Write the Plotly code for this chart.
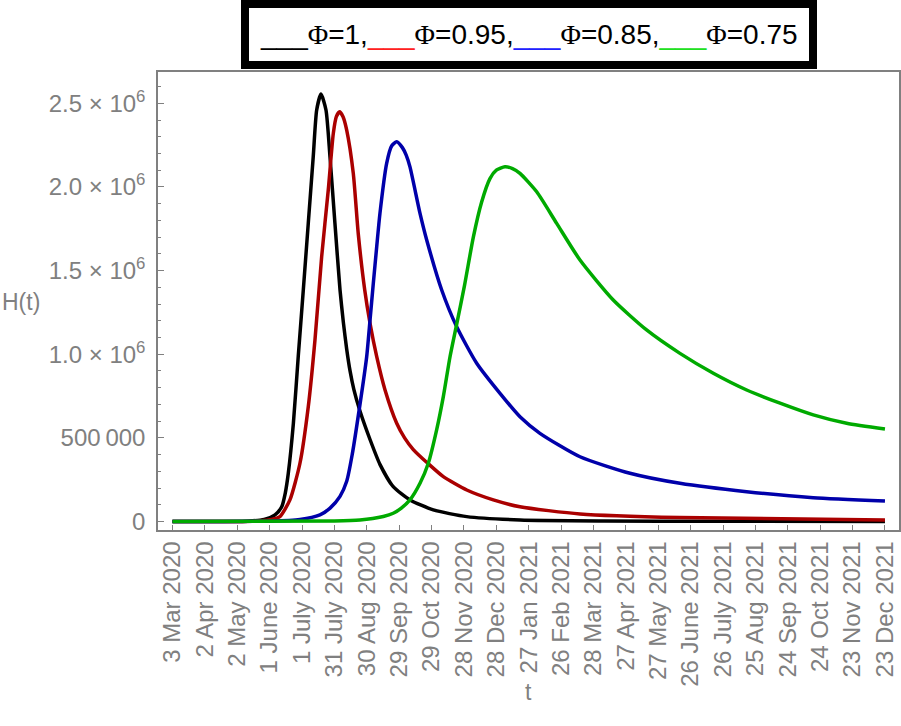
import plotly.graph_objects as go

# x = days since 3 Mar 2020, y = H(t) in millions
black_days = [0, 40, 70, 85, 95, 101.2, 104.5, 107.3, 112, 116.5, 121.2, 125.8, 130.4, 133.6, 137.6, 142.2, 145.9, 150.5, 155.2, 158.3, 161.4, 164.5, 168, 173.7, 183, 192.3, 204.5, 220, 241.6, 272.6, 321.9, 400, 500, 660]
black_vals = [0, 0, 0.002, 0.012, 0.04, 0.088, 0.17, 0.288, 0.587, 0.985, 1.384, 1.782, 2.181, 2.46, 2.555, 2.46, 2.181, 1.782, 1.384, 1.19, 1.03, 0.90, 0.79, 0.66, 0.49, 0.34, 0.208, 0.129, 0.069, 0.029, 0.009, 0.003, 0.001, 0.0]

red_days = [0, 60, 80, 92, 99.5, 108.8, 118.1, 125.8, 132, 138.2, 144.3, 149, 151.8, 154.8, 158, 161.4, 167.5, 172.1, 178.1, 183, 189.2, 196.9, 207.7, 215, 223.1, 237, 250.9, 272.6, 297.2, 321.9, 377.5, 470, 660]
red_vals = [0, 0.0, 0.004, 0.012, 0.029, 0.129, 0.348, 0.686, 1.085, 1.583, 1.98, 2.32, 2.42, 2.449, 2.42, 2.34, 2.081, 1.72, 1.384, 1.185, 0.985, 0.786, 0.587, 0.5, 0.43, 0.345, 0.268, 0.188, 0.129, 0.088, 0.045, 0.023, 0.009]

blue_days = [0, 90, 118.1, 136.6, 146, 155.2, 161.4, 166.5, 173.7, 179.9, 183, 186, 189.2, 192.2, 198.4, 203, 207.7, 213, 216.5, 220, 229.3, 235.5, 249.4, 263.3, 281.8, 303.4, 321.9, 340.4, 377.5, 423.8, 470.1, 531.9, 593.6, 660]
blue_vals = [0, 0.002, 0.012, 0.04, 0.08, 0.15, 0.24, 0.40, 0.70, 0.985, 1.204, 1.42, 1.643, 1.842, 2.141, 2.245, 2.270, 2.235, 2.19, 2.12, 1.842, 1.683, 1.384, 1.164, 0.946, 0.766, 0.626, 0.527, 0.387, 0.288, 0.228, 0.178, 0.142, 0.123]

green_days = [0, 150, 173.7, 195.3, 204.5, 212, 220, 229.3, 237, 244.7, 250.9, 257.1, 263.3, 270.5, 278.7, 286.4, 294.1, 300, 308, 315, 321.9, 337.4, 355.9, 377.5, 408.3, 439.2, 470.1, 501, 531.9, 562.8, 593.6, 624.5, 660]
green_vals = [0, 0.003, 0.009, 0.03, 0.049, 0.08, 0.129, 0.228, 0.348, 0.547, 0.746, 0.985, 1.18, 1.41, 1.70, 1.91, 2.05, 2.10, 2.121, 2.11, 2.081, 1.971, 1.782, 1.563, 1.324, 1.145, 1.005, 0.886, 0.786, 0.707, 0.637, 0.587, 0.553]

x_tick_days = list(range(0, 661, 30))
x_tick_labels = ["3 Mar 2020", "2 Apr 2020", "2 May 2020", "1 June 2020", "1 July 2020",
                 "31 July 2020", "30 Aug 2020", "29 Sep 2020", "29 Oct 2020", "28 Nov 2020",
                 "28 Dec 2020", "27 Jan 2021", "26 Feb 2021", "28 Mar 2021", "27 Apr 2021",
                 "27 May 2021", "26 June 2021", "26 July 2021", "25 Aug 2021", "24 Sep 2021",
                 "24 Oct 2021", "23 Nov 2021", "23 Dec 2021"]
y_tick_vals = [0, 500000, 1000000, 1500000, 2000000, 2500000]
y_tick_labels = ["0", "500\u2009000", "1.0 \u00d7 10<sup>6</sup>", "1.5 \u00d7 10<sup>6</sup>",
                 "2.0 \u00d7 10<sup>6</sup>", "2.5 \u00d7 10<sup>6</sup>"]

series = [
    (black_days, black_vals, "#000000"),
    (red_days, red_vals, "#aa0000"),
    (blue_days, blue_vals, "#0000aa"),
    (green_days, green_vals, "#00aa00"),
]

GRAY = "#808080"
FONT = "Liberation Sans, Arial, sans-serif"

fig = go.Figure()
for d, v, c in series:
    fig.add_trace(go.Scatter(x=d, y=[val * 1e6 for val in v], mode="lines",
                             line=dict(color=c, width=3.5, shape="spline", smoothing=0.6),
                             showlegend=False, hoverinfo="skip"))

fig.update_layout(
    width=901, height=726,
    margin=dict(l=158, r=2, t=72, b=196),
    paper_bgcolor="white", plot_bgcolor="white",
    font=dict(family=FONT, color=GRAY, size=24),
    xaxis=dict(range=[-13.4, 673], tickvals=x_tick_days, ticktext=x_tick_labels,
               tickangle=-90, ticks="inside", ticklen=5, tickcolor=GRAY,
               showline=True, linecolor=GRAY, linewidth=1.5, mirror=True,
               showgrid=False, zeroline=False, automargin=False,
               tickfont=dict(size=24, color=GRAY, family=FONT)),
    yaxis=dict(range=[-51000, 2687000], tickvals=y_tick_vals, ticktext=y_tick_labels,
               ticks="inside", ticklen=6, tickcolor=GRAY, ticklabelstandoff=6,
               minor=dict(dtick=100000, ticks="inside", ticklen=3, tickcolor=GRAY, showgrid=False),
               showline=True, linecolor=GRAY, linewidth=1.5, mirror=True,
               showgrid=False, zeroline=False, automargin=False,
               tickfont=dict(size=24, color=GRAY, family=FONT)),
)

PHI = "<span style='font-family:Liberation Serif, Times New Roman, serif'>\u03a6</span>"
legend_text = ("<span style='color:#000000'>___</span>" + PHI + "=1,"
               "<span style='color:#ff2020'>___</span>" + PHI + "=0.95,"
               "<span style='color:#2020ff'>___</span>" + PHI + "=0.85,"
               "<span style='color:#20e020'>___</span>" + PHI + "=0.75")
fig.add_annotation(xref="paper", yref="paper", x=0.5, y=1 + 72 / 458, xanchor="center", yanchor="top",
                   text=legend_text, showarrow=False,
                   font=dict(size=28, color="#000000", family=FONT),
                   bgcolor="white", bordercolor="#000000", borderwidth=8, borderpad=11)
fig.add_annotation(xref="paper", yref="paper", x=-158 / 741, y=(530 - 302) / 458, xanchor="left", yanchor="middle",
                   text="H(t)", showarrow=False, font=dict(size=23, color=GRAY, family=FONT))
fig.add_annotation(xref="paper", yref="paper", x=(528 - 158) / 741, y=-(692 - 530) / 458, xanchor="center", yanchor="middle",
                   text="t", showarrow=False, font=dict(size=23, color=GRAY, family=FONT))

fig.write_html("out.html", config={"displayModeBar": False},
               post_script="document.body.style.margin='0px';")
